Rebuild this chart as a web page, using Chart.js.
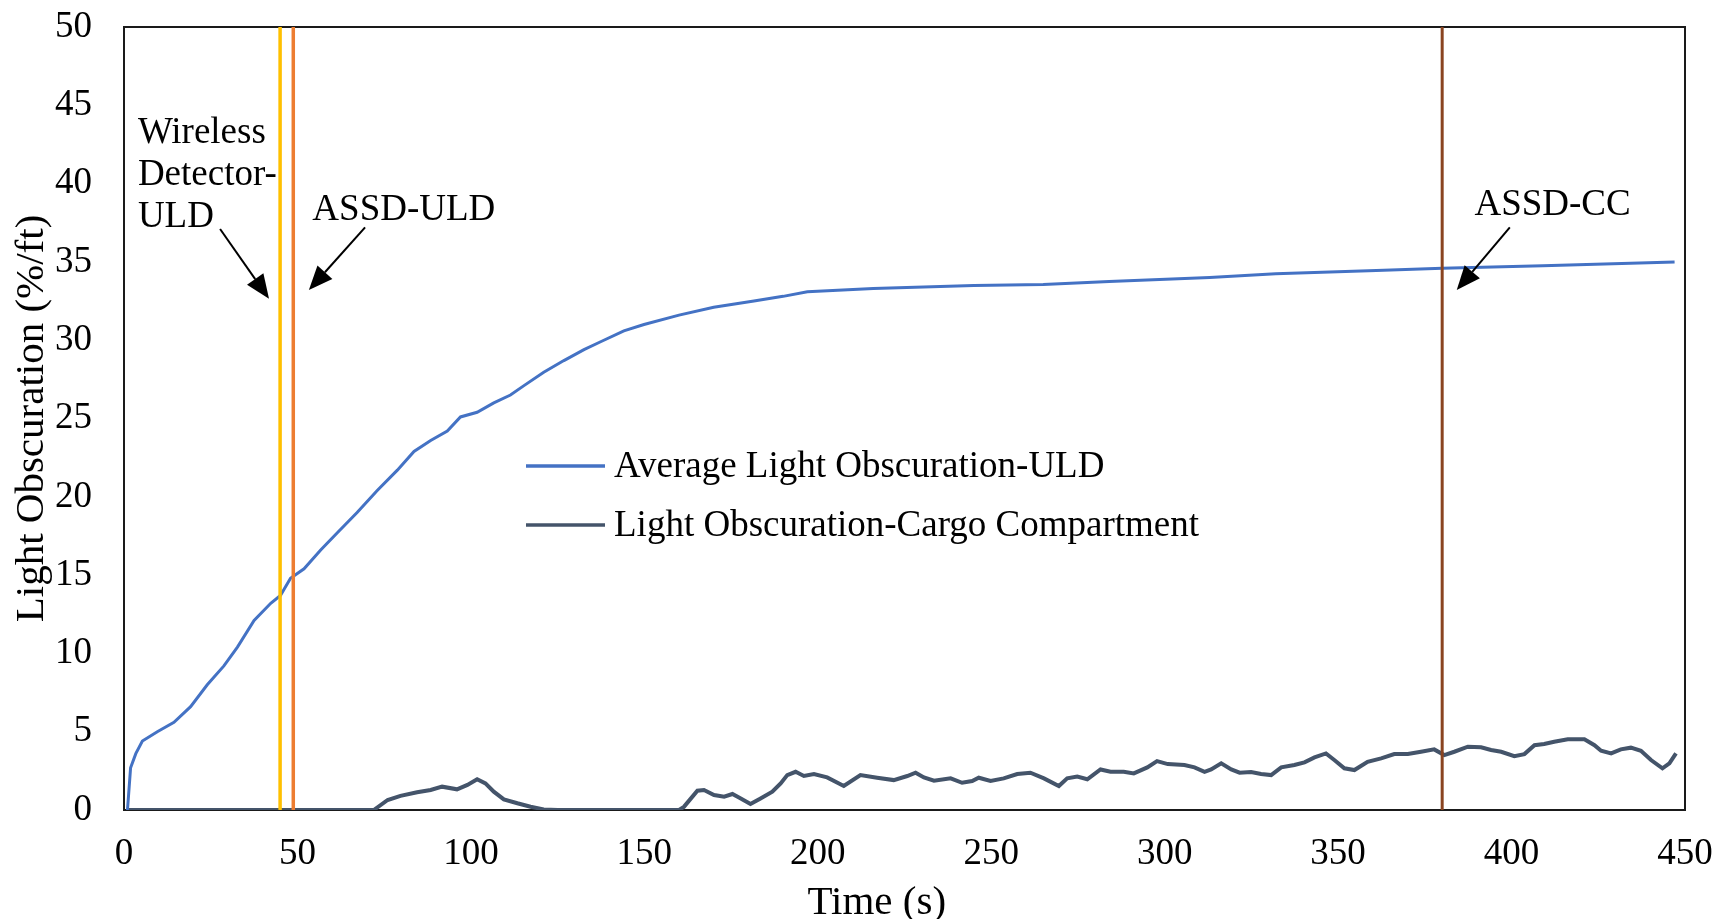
<!DOCTYPE html>
<html>
<head>
<meta charset="utf-8">
<title>Light Obscuration</title>
<script src="https://cdn.jsdelivr.net/npm/chart.js@4/dist/chart.umd.min.js"></script>
<style>
  html, body { margin: 0; padding: 0; background: #fff; }
  #wrap { width: 1719px; height: 919px; position: relative; }
</style>
</head>
<body>
<div id="wrap"><canvas id="obscurationChart"></canvas></div>
<script>
// ULD average light obscuration: time (s) / obscuration (%/ft)
const uldTime = [1, 1.9, 3.4, 5.3, 9.6, 14.4, 19.2, 24, 28.8, 32.7, 37.5, 42.3, 45.1, 48, 51.9, 56.7,
  61.5, 67.2, 73, 78.8, 83.6, 88.4, 93.2, 97, 101.8, 106.6, 111.4, 115.3, 121, 126.8, 132.6, 137.4,
  144.1, 149.9, 160, 170, 181.6, 190, 197, 216, 245, 265, 284, 313, 332, 361, 380, 409, 447];
const uldObscuration = [0, 2.7, 3.6, 4.4, 5.0, 5.6, 6.6, 8.0, 9.2, 10.4, 12.1, 13.2, 13.7, 14.8, 15.4, 16.6,
  17.7, 19.0, 20.4, 21.7, 22.9, 23.6, 24.2, 25.1, 25.4, 26.0, 26.5, 27.1, 27.95, 28.7, 29.4, 29.9,
  30.6, 31.0, 31.6, 32.1, 32.5, 32.8, 33.1, 33.3, 33.5, 33.55, 33.75, 34.0, 34.25, 34.45, 34.6, 34.75, 35.0];

// cargo compartment light obscuration
const ccTime = [1, 72, 76, 79.7, 84.5, 88.4, 91.7, 96, 99, 101.8, 104.2, 106.6, 109.5, 113.4, 117.2, 121, 125,
  160, 161.4, 165.3, 167.2, 170.1, 173, 175.4, 177.8, 180.6, 183.5, 186.9, 189.3, 191.2, 193.6, 196, 198.9,
  202.7, 207.5, 212.3, 217.1, 221.9, 225.8, 228.2, 230.6, 233.5, 238.3, 241.6, 244.5, 246.4, 249.8, 253.6,
  257.5, 261.3, 265.2, 269.5, 271.9, 274.8, 277.7, 281.5, 284.4, 288.2, 291.1, 295, 297.8, 300.9, 305.7,
  308.6, 311.5, 313.4, 316.3, 319.2, 321.6, 324.9, 327.8, 330.7, 333.6, 337.4, 340.3, 343.2, 346.5, 348.9,
  351.8, 354.7, 358.5, 362.4, 366.2, 370.1, 373.9, 377.7, 380.6, 383.5, 387.4, 391.2, 394.1, 397, 400.8,
  403.7, 406.6, 409.4, 412.3, 416.2, 421, 423.9, 425.8, 428.7, 431.5, 434.4, 437.3, 440.2, 443.5, 445.5, 447.4];
const ccObscuration = [0, 0, 0.64, 0.9, 1.13, 1.28, 1.49, 1.32, 1.6, 1.96, 1.7, 1.17, 0.68, 0.43, 0.21, 0.04, 0,
  0, 0.2, 1.23, 1.28, 0.96, 0.85, 1.02, 0.74, 0.38, 0.74, 1.17, 1.7, 2.23, 2.44, 2.17, 2.3,
  2.08, 1.53, 2.23, 2.06, 1.91, 2.17, 2.38, 2.08, 1.87, 2.02, 1.74, 1.85, 2.06, 1.85, 2.02,
  2.3, 2.38, 2.02, 1.53, 2.02, 2.13, 1.96, 2.59, 2.44, 2.44, 2.34, 2.72, 3.12, 2.93, 2.87,
  2.72, 2.44, 2.59, 2.98, 2.59, 2.38, 2.42, 2.3, 2.23, 2.72, 2.87, 3.04, 3.36, 3.61, 3.19,
  2.66, 2.55, 3.08, 3.3, 3.57, 3.57, 3.72, 3.87, 3.51, 3.72, 4.04, 4.0, 3.83, 3.72, 3.44,
  3.57, 4.14, 4.21, 4.36, 4.51, 4.51, 4.14, 3.78, 3.61, 3.87, 3.98, 3.78, 3.19, 2.66, 2.98, 3.61];

// detector alarm times (s)
const detectorNames = ['Wireless Detector-ULD', 'ASSD-ULD', 'ASSD-CC'];
const detectorTimes = [45, 48.8, 380];
const detectorColors = ['#FFC000', '#ED7D31', '#8A4420'];

const xTicks = [0, 50, 100, 150, 200, 250, 300, 350, 400, 450];
const yTicks = [0, 5, 10, 15, 20, 25, 30, 35, 40, 45, 50];

const seriesNames = ['Average Light Obscuration-ULD', 'Light Obscuration-Cargo Compartment'];
const seriesColors = ['#4472C4', '#44546A'];

const serif = "'Liberation Serif', 'Times New Roman', serif";

// callouts: text anchor and arrow in (time, obscuration) units
const notes = [
  { lines: ['Wireless', 'Detector-', 'ULD'], at: [4, 42.6], from: [27.7, 37.1], to: [41.8, 32.65] },
  { lines: ['ASSD-ULD'], at: [54.3, 37.7], from: [69.5, 37.2], to: [53.3, 33.2] },
  { lines: ['ASSD-CC'], at: [389.3, 38.0], from: [399.5, 37.2], to: [384.2, 33.2] }
];

function toPoints(xs, ys) {
  return xs.map((x, i) => ({ x: x, y: ys[i] }));
}

function drawArrow(ctx, x1, y1, x2, y2) {
  const ang = Math.atan2(y2 - y1, x2 - x1);
  const head = 24, half = 10;
  const bx = x2 - head * Math.cos(ang), by = y2 - head * Math.sin(ang);
  ctx.beginPath();
  ctx.moveTo(x1, y1);
  ctx.lineTo(bx, by);
  ctx.stroke();
  ctx.beginPath();
  ctx.moveTo(x2, y2);
  ctx.lineTo(bx + half * Math.sin(ang), by - half * Math.cos(ang));
  ctx.lineTo(bx - half * Math.sin(ang), by + half * Math.cos(ang));
  ctx.closePath();
  ctx.fill();
}

const framePlugin = {
  id: 'frame',
  beforeDatasetsDraw(chart) {
    const { ctx, chartArea: a } = chart;
    ctx.save();
    ctx.strokeStyle = '#1a1a1a';
    ctx.lineWidth = 2;
    ctx.strokeRect(a.left, a.top, a.width, a.height);
    ctx.restore();
  },
  afterDraw(chart) {
    const { ctx, chartArea: a } = chart;
    const xs = chart.scales.x, ys = chart.scales.y;
    ctx.save();
    ctx.fillStyle = '#000';
    ctx.strokeStyle = '#000';
    ctx.lineWidth = 2;
    ctx.font = '37px ' + serif;
    ctx.textBaseline = 'alphabetic';
    ctx.textAlign = 'left';

    notes.forEach(n => {
      const tx = xs.getPixelForValue(n.at[0]);
      const ty = ys.getPixelForValue(n.at[1]);
      n.lines.forEach((line, i) => ctx.fillText(line, tx, ty + i * 42));
      drawArrow(ctx,
        xs.getPixelForValue(n.from[0]), ys.getPixelForValue(n.from[1]),
        xs.getPixelForValue(n.to[0]), ys.getPixelForValue(n.to[1]));
    });

    // legend box inside the plot
    ctx.font = '37px ' + serif;
    const lx = a.left + 402, ly = a.top + 439;
    seriesNames.forEach((name, i) => {
      const y = ly + i * 59;
      ctx.strokeStyle = seriesColors[i];
      ctx.lineWidth = 3.5;
      ctx.beginPath();
      ctx.moveTo(lx, y);
      ctx.lineTo(lx + 79, y);
      ctx.stroke();
      ctx.fillStyle = '#000';
      ctx.fillText(name, lx + 88, y + 11);
    });

    // x axis title
    ctx.font = '41px ' + serif;
    ctx.textAlign = 'center';
    ctx.textBaseline = 'middle';
    ctx.fillText('Time (s)', xs.getPixelForValue(217), 903);
    ctx.restore();
  }
};

const detectorSets = detectorTimes.map((t, i) => ({
  label: detectorNames[i],
  data: [{ x: t, y: yTicks[0] }, { x: t, y: yTicks[yTicks.length - 1] }],
  borderColor: detectorColors[i],
  borderWidth: i === 2 ? 3 : 3.5,
  pointRadius: 0,
  clip: false
}));

new Chart(document.getElementById('obscurationChart'), {
  type: 'line',
  data: {
    datasets: detectorSets.concat([
      {
        label: seriesNames[0],
        data: toPoints(uldTime, uldObscuration),
        borderColor: seriesColors[0],
        borderWidth: 3,
        pointRadius: 0
      },
      {
        label: seriesNames[1],
        data: toPoints(ccTime, ccObscuration),
        borderColor: seriesColors[1],
        borderWidth: 4,
        pointRadius: 0
      }
    ])
  },
  options: {
    responsive: true,
    maintainAspectRatio: false,
    animation: false,
    layout: { padding: { top: 27, right: 34, left: 0, bottom: 0 } },
    plugins: { legend: { display: false }, tooltip: { enabled: false } },
    scales: {
      x: {
        type: 'linear',
        min: xTicks[0],
        max: xTicks[xTicks.length - 1],
        afterBuildTicks: s => { s.ticks = xTicks.map(v => ({ value: v })); },
        afterFit: s => { s.height = 109; },
        // tick marks stay hidden; tickLength only spaces the labels
        grid: { display: false, drawTicks: true, tickLength: 22 },
        border: { display: false },
        ticks: { color: '#000', padding: 0, maxRotation: 0, font: { family: serif, size: 37 } },
        title: { display: false }
      },
      y: {
        type: 'linear',
        min: yTicks[0],
        max: yTicks[yTicks.length - 1],
        afterBuildTicks: s => { s.ticks = yTicks.map(v => ({ value: v })); },
        afterFit: s => { s.width = 124; },
        grid: { display: false, drawTicks: true, tickLength: 32 },
        border: { display: false },
        ticks: { color: '#000', padding: 0, font: { family: serif, size: 37 } },
        title: {
          display: true,
          text: 'Light Obscuration (%/ft)',
          color: '#000',
          padding: { top: 8, bottom: 0 },
          font: { family: serif, size: 41 }
        }
      }
    }
  },
  plugins: [framePlugin]
});
</script>
</body>
</html>
